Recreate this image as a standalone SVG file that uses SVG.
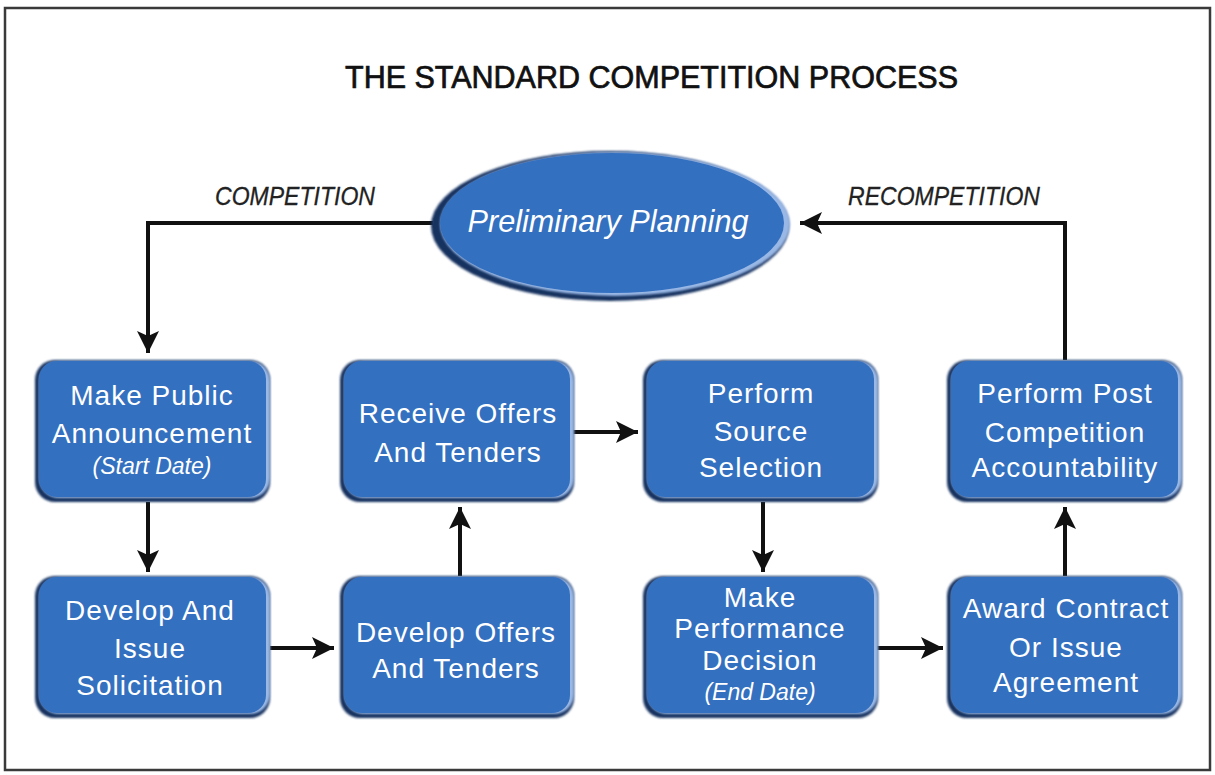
<svg xmlns="http://www.w3.org/2000/svg" width="1215" height="775" viewBox="0 0 1215 775">
<style>
.frame{fill:#fff;stroke:#3a3a3a;stroke-width:2.5}
.title{font-family:"Liberation Sans",Arial,sans-serif;font-size:31px;fill:#111;stroke:#111;stroke-width:0.7}
.lbl{font-family:"Liberation Sans",Arial,sans-serif;font-size:26px;font-style:italic;fill:#222;stroke:#222;stroke-width:0.3}
.bt{font-family:"Liberation Sans",Arial,sans-serif;font-size:28px;fill:#fff;text-anchor:middle;letter-spacing:1px}
.bi{font-family:"Liberation Sans",Arial,sans-serif;font-size:23px;font-style:italic;fill:#fff;text-anchor:middle}
.dark{fill:#16305e;filter:url(#soft)}
.light{fill:#9ab8e6;filter:url(#soft)}
.main{fill:#3370c0}
.conn{fill:none;stroke:#111;stroke-width:4}
</style>
<defs>
<filter id="soft" x="-5%" y="-5%" width="110%" height="110%"><feGaussianBlur stdDeviation="1.2"/></filter>
<marker id="ah" markerUnits="userSpaceOnUse" markerWidth="24" markerHeight="22" refX="22" refY="11" orient="auto">
<path d="M0,0 L22,11 L0,22 L5,11 Z" fill="#111"/>
</marker>
</defs>
<rect class="frame" x="5" y="8" width="1205" height="762"/>
<text class="title" x="345" y="88" textLength="613" lengthAdjust="spacingAndGlyphs">THE STANDARD COMPETITION PROCESS</text>

<g id="connectors">
<polyline class="conn" points="433,223 148,223 148,353" marker-end="url(#ah)"/>
<polyline class="conn" points="1065,360 1065,223 800,223" marker-end="url(#ah)"/>
<line class="conn" x1="148" y1="502" x2="148" y2="572" marker-end="url(#ah)"/>
<line class="conn" x1="270" y1="648" x2="334" y2="648" marker-end="url(#ah)"/>
<line class="conn" x1="460" y1="576" x2="460" y2="507" marker-end="url(#ah)"/>
<line class="conn" x1="573" y1="432" x2="638" y2="432" marker-end="url(#ah)"/>
<line class="conn" x1="763" y1="502" x2="763" y2="572" marker-end="url(#ah)"/>
<line class="conn" x1="877" y1="648" x2="943" y2="648" marker-end="url(#ah)"/>
<line class="conn" x1="1065" y1="576" x2="1065" y2="507" marker-end="url(#ah)"/>
<text class="lbl" x="215" y="205" textLength="160" lengthAdjust="spacingAndGlyphs">COMPETITION</text>
<text class="lbl" x="848" y="205" textLength="192" lengthAdjust="spacingAndGlyphs">RECOMPETITION</text>
</g>

<g id="preliminary-planning">
<ellipse class="dark" cx="610" cy="226" rx="179" ry="75"/>
<ellipse class="light" cx="615" cy="224" rx="175" ry="72"/>
<ellipse class="main" cx="612" cy="223" rx="172" ry="70"/>
<text x="608" y="232" text-anchor="middle" font-family="Liberation Sans, Arial, sans-serif" font-size="32" font-style="italic" fill="#fff" textLength="281" lengthAdjust="spacingAndGlyphs">Preliminary Planning</text>
</g>

<g id="make-public-announcement">
<rect class="dark" x="35" y="360" width="235" height="142" rx="20"/>
<rect class="light" x="39" y="361" width="231" height="137" rx="20"/>
<rect class="main" x="39" y="361" width="227" height="136" rx="18"/>
<text class="bt" x="152" y="405">Make Public</text>
<text class="bt" x="152" y="443">Announcement</text>
<text class="bi" x="152" y="474">(Start Date)</text>
</g>

<g id="receive-offers">
<rect class="dark" x="340" y="360" width="234" height="142" rx="20"/>
<rect class="light" x="344" y="361" width="230" height="137" rx="20"/>
<rect class="main" x="344" y="361" width="226" height="136" rx="18"/>
<text class="bt" x="458" y="423">Receive Offers</text>
<text class="bt" x="458" y="462">And Tenders</text>
</g>

<g id="perform-source-selection">
<rect class="dark" x="643" y="360" width="235" height="142" rx="20"/>
<rect class="light" x="647" y="361" width="231" height="137" rx="20"/>
<rect class="main" x="647" y="361" width="227" height="136" rx="18"/>
<text class="bt" x="761" y="403">Perform</text>
<text class="bt" x="761" y="441">Source</text>
<text class="bt" x="761" y="477">Selection</text>
</g>

<g id="post-competition-accountability">
<rect class="dark" x="947" y="360" width="235" height="142" rx="20"/>
<rect class="light" x="951" y="361" width="231" height="137" rx="20"/>
<rect class="main" x="951" y="361" width="227" height="136" rx="18"/>
<text class="bt" x="1065" y="403">Perform Post</text>
<text class="bt" x="1065" y="442">Competition</text>
<text class="bt" x="1065" y="477">Accountability</text>
</g>

<g id="develop-issue-solicitation">
<rect class="dark" x="35" y="576" width="235" height="142" rx="20"/>
<rect class="light" x="39" y="577" width="231" height="137" rx="20"/>
<rect class="main" x="39" y="577" width="227" height="136" rx="18"/>
<text class="bt" x="150" y="620">Develop And</text>
<text class="bt" x="150" y="658">Issue</text>
<text class="bt" x="150" y="695">Solicitation</text>
</g>

<g id="develop-offers">
<rect class="dark" x="340" y="576" width="234" height="142" rx="20"/>
<rect class="light" x="344" y="577" width="230" height="137" rx="20"/>
<rect class="main" x="344" y="577" width="226" height="136" rx="18"/>
<text class="bt" x="456" y="642">Develop Offers</text>
<text class="bt" x="456" y="678">And Tenders</text>
</g>

<g id="make-performance-decision">
<rect class="dark" x="643" y="576" width="235" height="142" rx="20"/>
<rect class="light" x="647" y="577" width="231" height="137" rx="20"/>
<rect class="main" x="647" y="577" width="227" height="136" rx="18"/>
<text class="bt" x="760" y="607">Make</text>
<text class="bt" x="760" y="638">Performance</text>
<text class="bt" x="760" y="670">Decision</text>
<text class="bi" x="760" y="700">(End Date)</text>
</g>

<g id="award-contract">
<rect class="dark" x="947" y="576" width="235" height="142" rx="20"/>
<rect class="light" x="951" y="577" width="231" height="137" rx="20"/>
<rect class="main" x="951" y="577" width="227" height="136" rx="18"/>
<text class="bt" x="1066" y="618">Award Contract</text>
<text class="bt" x="1066" y="657">Or Issue</text>
<text class="bt" x="1066" y="692">Agreement</text>
</g>
</svg>
